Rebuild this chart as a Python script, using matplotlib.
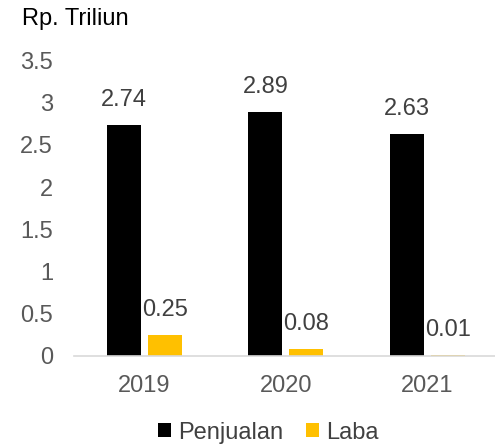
import matplotlib
matplotlib.use("Agg")
import matplotlib.pyplot as plt
import numpy as np

plt.rcParams['font.family'] = ['Liberation Sans', 'DejaVu Sans']

years = ["2019", "2020", "2021"]
penjualan = [2.74, 2.89, 2.63]
laba = [0.25, 0.08, 0.01]
yticks = [0, 0.5, 1, 1.5, 2, 2.5, 3, 3.5]
ytick_labels = ["0", "0.5", "1", "1.5", "2", "2.5", "3", "3.5"]

FS = 17
fig = plt.figure(figsize=(4.95, 4.46), dpi=100)
ax = fig.add_axes([0.149, 0.2018, 0.857, 0.663])

x = np.arange(len(years))
w = 0.24
gap = 0.05
b1 = ax.bar(x - (w + gap) / 2, penjualan, w, color="#000000", label="Penjualan")
b2 = ax.bar(x + (w + gap) / 2, laba, w, color="#FFC000", label="Laba")

for bars, vals in ((b1, penjualan), (b2, laba)):
    for r, v in zip(bars, vals):
        ax.annotate(f"{v:.2f}", (r.get_x() + r.get_width() / 2, v),
                    xytext=(0, 18), textcoords="offset points",
                    ha="center", va="center", fontsize=FS, color="#404040")

ax.set_xlim(-0.5, 2.5)
ax.set_ylim(0, 3.5)
ax.set_yticks(yticks)
ax.set_yticklabels(ytick_labels)
ax.set_xticks(x)
ax.set_xticklabels(years)
ax.tick_params(axis="both", length=0, labelsize=FS, labelcolor="#595959")
ax.tick_params(axis="y", pad=15)
ax.tick_params(axis="x", pad=14)
for s in ("top", "right", "left"):
    ax.spines[s].set_visible(False)
ax.spines["bottom"].set_color("#D9D9D9")
ax.spines["bottom"].set_linewidth(1.2)

fig.text(0.044, 0.958, "Rp. Triliun", fontsize=FS, color="#000000", ha="left", va="center")

fig.legend(handles=[b1, b2], loc="center", bbox_to_anchor=(0.542, 0.03), ncol=2,
           frameon=False, fontsize=FS, handlelength=0.55, handleheight=0.55,
           handletextpad=0.3, columnspacing=0.93, labelcolor="#404040",
           borderpad=0)

fig.savefig("out.png", dpi=100)
